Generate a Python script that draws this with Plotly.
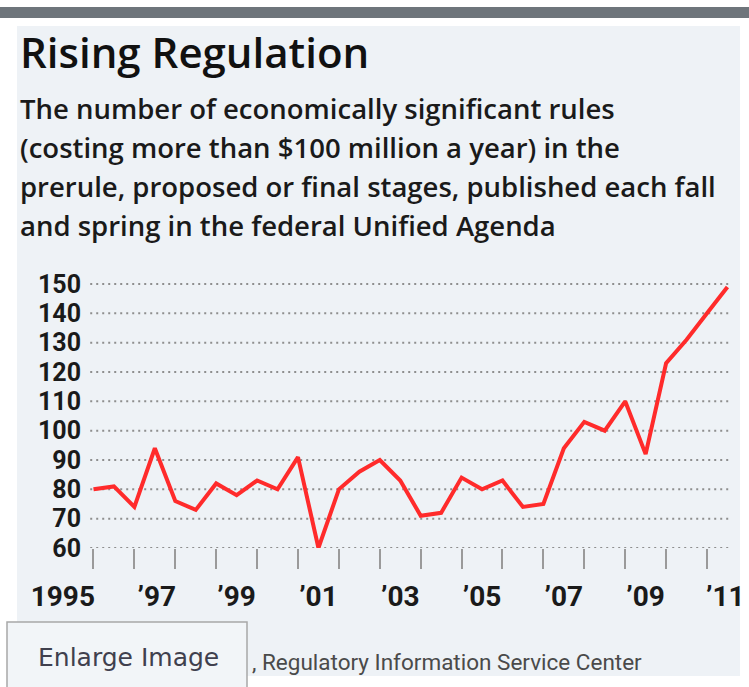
import plotly.graph_objects as go

# ---------------- data ----------------
periods = [1996.0, 1996.5, 1997.0, 1997.5, 1998.0, 1998.5, 1999.0, 1999.5,
           2000.0, 2000.5, 2001.0, 2001.5, 2002.0, 2002.5, 2003.0, 2003.5,
           2004.0, 2004.5, 2005.0, 2005.5, 2006.0, 2006.5, 2007.0, 2007.5,
           2008.0, 2008.5, 2009.0, 2009.5, 2010.0, 2010.5, 2011.0, 2011.5]
rules = [80, 81, 74, 94, 76, 73, 82, 78, 83, 80, 91, 60, 80, 86, 90, 83,
         71, 72, 84, 80, 83, 74, 75, 94, 103, 100, 110, 92, 123, 131, 140, 149]

y_ticks = [60, 70, 80, 90, 100, 110, 120, 130, 140, 150]
year_ticks = [1996, 1997, 1998, 1999, 2000, 2001, 2002, 2003, 2004, 2005,
              2006, 2007, 2008, 2009, 2010, 2011]
x_label_pos = [1995.25, 1997.55, 1999.5, 2001.5, 2003.5, 2005.5, 2007.5, 2009.5, 2011.45]
x_label_text = ["1995", "\u201997", "\u201999", "\u201901", "\u201903", "\u201905",
                "\u201907", "\u201909", "\u201911"]

title = "Rising Regulation"
subtitle_lines = ["The number of economically significant rules",
                  "(costing more than $100 million a year) in the",
                  "prerule, proposed or final stages, published each fall",
                  "and spring in the federal Unified Agenda"]
source = ", Regulatory Information Service Center"

# ---------------- figure ----------------
W, H = 749, 687
PANEL = "#eef2f6"
TICKFONT = "Roboto, Liberation Sans, sans-serif"

fig = go.Figure()
fig.add_trace(go.Scatter(x=periods, y=rules, mode="lines",
                         line=dict(color="#ff2b2b", width=4),
                         cliponaxis=False, showlegend=False, hoverinfo="skip"))
fig.add_trace(go.Scatter(x=[], y=[], xaxis="x2", yaxis="y", showlegend=False))

shapes = []
# top dark bar
shapes.append(dict(type="rect", xref="paper", yref="paper", x0=0, x1=1,
                   y0=1 - 18 / H, y1=1 - 7 / H, fillcolor="#6e757b",
                   line=dict(width=0), layer="below"))
# panel
shapes.append(dict(type="rect", xref="paper", yref="paper", x0=17 / W, x1=740 / W,
                   y0=1 - 676 / H, y1=1 - 26 / H, fillcolor=PANEL,
                   line=dict(width=0), layer="below"))
# dotted gridlines
for v in y_ticks:
    shapes.append(dict(type="line", xref="x", yref="y",
                       x0=periods[0] - 0.08, x1=periods[-1] + 0.05, y0=v, y1=v,
                       line=dict(color="#8e8e8e", width=2, dash="2px,4px"),
                       layer="below"))
# enlarge-image button
shapes.append(dict(type="rect", xref="paper", yref="paper", x0=7 / W, x1=247 / W,
                   y0=-0.02, y1=1 - 622 / H, fillcolor="#f2f5f8",
                   line=dict(color="#a8a8a8", width=1.5), layer="above"))

annotations = [
    dict(text=title, xref="paper", yref="paper", x=18 / W, y=1 - 52 / H,
         xanchor="left", yanchor="middle", showarrow=False,
         font=dict(family="Open Sans", size=42, color="#111111", weight=600)),
    dict(text=source, xref="paper", yref="paper", x=250 / W, y=1 - 662 / H,
         xanchor="left", yanchor="middle", showarrow=False,
         font=dict(family="Roboto", size=22.5, color="#4a4a4a")),
    dict(text="Enlarge Image", xref="paper", yref="paper", x=128 / W, y=1 - 657 / H,
         xanchor="center", yanchor="middle", showarrow=False,
         font=dict(family="DejaVu Sans", size=25, color="#40404e")),
]
for i, line in enumerate(subtitle_lines):
    annotations.append(dict(text=line, xref="paper", yref="paper",
                            x=18 / W, y=1 - (108 + 39.3 * i) / H,
                            xanchor="left", yanchor="middle", showarrow=False,
                            font=dict(family="Open Sans", size=27.5,
                                      color="#1a1a1a", weight=600)))

fig.update_layout(
    width=W, height=H,
    margin=dict(l=0, r=0, t=0, b=0, autoexpand=False),
    paper_bgcolor="white", plot_bgcolor="rgba(0,0,0,0)",
    shapes=shapes, annotations=annotations,
    xaxis=dict(range=[1994.9, 2011.9], domain=[48.5 / W, 743.8 / W], automargin=False,
               tickmode="array", tickvals=year_ticks, showticklabels=False,
               ticks="outside", ticklen=20, tickwidth=2, tickcolor="#9a9a9a",
               showgrid=False, zeroline=False, showline=False, fixedrange=True),
    xaxis2=dict(range=[1994.9, 2011.9], overlaying="x", side="bottom", anchor="y",
                automargin=False,
                tickmode="array", tickvals=x_label_pos, ticktext=x_label_text,
                ticks="", ticklabelstandoff=29,
                tickfont=dict(family=TICKFONT, size=28, color="#1a1a1a", weight="bold"),
                showgrid=False, zeroline=False, showline=False, fixedrange=True),
    yaxis=dict(range=[60, 153], domain=[1 - 548 / H, 1 - 275.2 / H],
               anchor="free", position=81 / W, automargin=False,
               tickmode="array", tickvals=y_ticks,
               tickfont=dict(family=TICKFONT, size=25, color="#1a1a1a", weight="bold"),
               ticks="", showgrid=False, zeroline=False, showline=False, fixedrange=True),
)

fig.write_html("out.html")
